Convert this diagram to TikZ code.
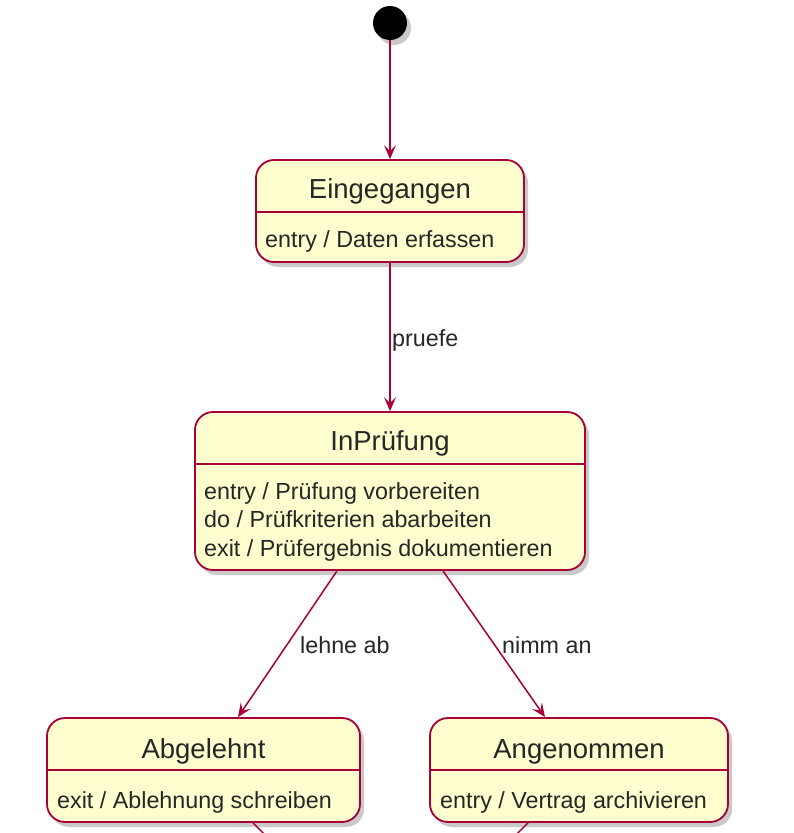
\documentclass[tikz,border=0pt]{standalone}
\usepackage{fontspec}
\setmainfont{Liberation Sans}
\usetikzlibrary{arrows.meta,positioning,shadows}

\definecolor{umlred}{HTML}{A80036}
\definecolor{umlfill}{HTML}{FEFECE}

\tikzset{
  statebox/.style={draw=umlred, fill=umlfill, line width=1.8pt, rounded corners=18pt,
    drop shadow={shadow xshift=4pt, shadow yshift=-5pt, fill=black!35, opacity=0.6}},
  titletext/.style={inner sep=0pt, text=black!85, font=\fontsize{27.5}{33}\selectfont, anchor=base},
  bodytext/.style={inner sep=0pt, text=black!85, font=\fontsize{23.3}{28.5}\selectfont, align=left, anchor=base west},
  sep/.style={draw=umlred, line width=1.6pt},
  trans/.style={draw=umlred, line width=1.5pt, -{Stealth[length=14pt, width=12pt, inset=6pt]}},
  translabel/.style={inner sep=0pt, text=black!85, font=\fontsize{23.3}{28}\selectfont, anchor=base west}
}

\begin{document}
\begin{tikzpicture}[x=1pt, y=-1pt]
  \useasboundingbox[fill=white] (0,0) rectangle (793,833);

  % initial state
  \node[circle, fill=black, minimum size=34pt, inner sep=0pt,
    drop shadow={shadow xshift=4pt, shadow yshift=-5pt, fill=black!35, opacity=0.6}] (start) at (390,23) {};

  % Eingegangen
  \node[statebox, minimum width=268pt, minimum height=102pt] (eing) at (390,211) {};
  \node[titletext] (eingTitle) at (390,198) {Eingegangen};
  \draw[sep] ([yshift=-53pt]eing.north west) -- ([yshift=-53pt]eing.north east);
  \node[bodytext] (eingBody) at (265,247) {entry / Daten erfassen};

  % InPruefung (base of the body = last line)
  \node[statebox, minimum width=390pt, minimum height=158pt] (inp) at (390,491) {};
  \node[titletext] (inpTitle) at (390,450) {InPrüfung};
  \draw[sep] ([yshift=-53pt]inp.north west) -- ([yshift=-53pt]inp.north east);
  \node[bodytext] (inpBody) at (204,556) {entry / Prüfung vorbereiten\\do / Prüfkriterien abarbeiten\\exit / Prüfergebnis dokumentieren};

  % Abgelehnt
  \node[statebox, minimum width=313pt, minimum height=104pt] (abg) at (203.5,770) {};
  \node[titletext] (abgTitle) at (203.5,758) {Abgelehnt};
  \draw[sep] ([yshift=-53pt]abg.north west) -- ([yshift=-53pt]abg.north east);
  \node[bodytext] (abgBody) at (57,808) {exit / Ablehnung schreiben};

  % Angenommen
  \node[statebox, minimum width=298pt, minimum height=104pt] (ang) at (579,770) {};
  \node[titletext] (angTitle) at (579,758) {Angenommen};
  \draw[sep] ([yshift=-53pt]ang.north west) -- ([yshift=-53pt]ang.north east);
  \node[bodytext] (angBody) at (440,808) {entry / Vertrag archivieren};

  % final state (below the visible part)
  \coordinate (final) at (390,960);

  % transitions
  \draw[trans] (start) -- (eing.north);
  \draw[trans] (eing.south) -- (inp.north);
  \node[translabel] (lblPruefe) at (392,346) {pruefe};
  \draw[trans] ([xshift=-53pt]inp.south) -- ([xshift=34.5pt]abg.north);
  \node[translabel] (lblAb) at (300,653) {lehne ab};
  \draw[trans] ([xshift=53pt]inp.south) -- ([xshift=-34pt]ang.north);
  \node[translabel] (lblAn) at (502,653) {nimm an};
  \draw[trans] ([xshift=49.5pt]abg.south) -- (final);
  \draw[trans] ([xshift=-51pt]ang.south) -- (final);
\end{tikzpicture}
\end{document}
